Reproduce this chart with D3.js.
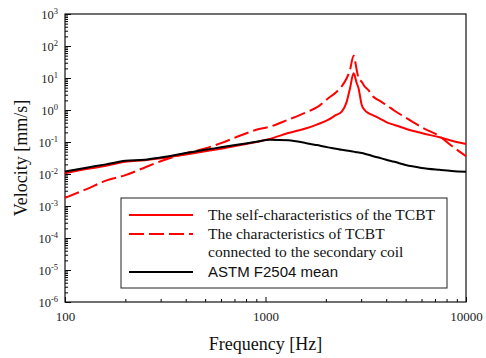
<!DOCTYPE html>
<html>
<head>
<meta charset="utf-8">
<script src="https://cdn.jsdelivr.net/npm/d3@7"></script>
<style>
  html, body { margin: 0; padding: 0; background: #fff; }
  svg { display: block; }
</style>
</head>
<body>
<svg id="chart" width="486" height="358"></svg>
<script>
// frequency grid [Hz]
const freq = [100, 130, 160, 200, 250, 300, 400, 500, 600, 750, 900, 1050, 1300, 1600, 1800, 2050, 2250, 2400, 2540, 2640, 2750, 2850, 2910, 3020, 3120, 3260, 3450, 3700, 4000, 4400, 5000, 6000, 7400, 8500, 10000];

// velocity [mm/s]
const selfChar = [0.0105, 0.0145, 0.018, 0.024, 0.027, 0.031, 0.041, 0.051, 0.062, 0.08, 0.1, 0.125, 0.19, 0.27, 0.35, 0.49, 0.7, 0.89, 1.8, 4.8, 14, 7, 4.8, 1.43, 1.0, 0.8, 0.68, 0.55, 0.42, 0.34, 0.26, 0.19, 0.14, 0.11, 0.087];
const coilChar = [0.0018, 0.0035, 0.0062, 0.0092, 0.016, 0.025, 0.044, 0.063, 0.092, 0.16, 0.24, 0.3, 0.5, 0.85, 1.2, 2.3, 3.6, 5.5, 9.8, 18, 50, 18, 10, 7.6, 5.5, 4.2, 2.6, 1.95, 1.45, 0.95, 0.58, 0.29, 0.15, 0.075, 0.036];
const astmMean = [0.012, 0.016, 0.02, 0.026, 0.028, 0.033, 0.045, 0.057, 0.068, 0.085, 0.102, 0.118, 0.113, 0.092, 0.08, 0.068, 0.062, 0.057, 0.054, 0.052, 0.05, 0.048, 0.047, 0.045, 0.043, 0.04, 0.036, 0.032, 0.028, 0.024, 0.019, 0.0155, 0.0135, 0.0125, 0.0118];

const xTickVals = [100, 1000, 10000];
const yExponents = [-6, -5, -4, -3, -2, -1, 0, 1, 2, 3];

const legendLabels = [
  ["The self-characteristics of the TCBT"],
  ["The characteristics of  TCBT", "connected to the secondary coil"],
  ["ASTM F2504 mean"]
];

const serif = "'Liberation Serif', 'Times New Roman', serif";
const sans = "'Liberation Sans', Arial, sans-serif";

const margin = { left: 65, top: 14, right: 20, bottom: 56 };
const width = 486 - margin.left - margin.right,
      height = 358 - margin.top - margin.bottom;

const svg = d3.select("#chart");
const g = svg.append("g").attr("transform", `translate(${margin.left}, ${margin.top})`);

const x = d3.scaleLog().domain([100, 10000]).range([0, width]);
const y = d3.scaleLog().domain([1e-6, 1e3]).range([height, 0]);

// minor tick values
const xMinor = [];
[100, 1000].forEach(b => { for (let k = 2; k <= 9; k++) xMinor.push(b * k); });
const yMinor = [];
yExponents.slice(0, -1).forEach(e => { for (let k = 2; k <= 9; k++) yMinor.push(k * Math.pow(10, e)); });

// axes (ticks inside)
g.append("g")
  .attr("transform", `translate(0, ${height})`)
  .call(d3.axisBottom(x).tickValues(xMinor).tickSize(-3).tickFormat(""))
  .call(a => a.select(".domain").remove());
g.append("g")
  .attr("transform", `translate(0, ${height})`)
  .call(d3.axisBottom(x).tickValues(xTickVals).tickSize(-5).tickPadding(10).tickFormat(d3.format("d")))
  .call(a => a.select(".domain").remove())
  .call(a => a.selectAll("text").attr("font-family", serif).attr("font-size", 13).attr("fill", "#222"));

g.append("g")
  .call(d3.axisLeft(y).tickValues(yMinor).tickSize(-3).tickFormat(""))
  .call(a => a.select(".domain").remove());
g.append("g")
  .call(d3.axisLeft(y).tickValues(yExponents.map(e => Math.pow(10, e))).tickSize(-6).tickFormat(""))
  .call(a => a.select(".domain").remove());

// y tick labels with superscripts
const yLab = g.append("g").selectAll("text")
  .data(yExponents)
  .join("text")
  .attr("x", -7)
  .attr("y", d => y(Math.pow(10, d)) + 5)
  .attr("text-anchor", "end")
  .attr("font-family", serif)
  .attr("font-size", 12.5)
  .attr("fill", "#222");
yLab.append("tspan").text("10");
yLab.append("tspan").attr("font-size", 8.5).attr("dy", -5).text(d => d);

// frame
g.append("rect")
  .attr("width", width).attr("height", height)
  .attr("fill", "none").attr("stroke", "#111").attr("stroke-width", 1.2);

// curves
const line = d3.line()
  .x(d => x(d[0]))
  .y(d => y(d[1]))
  .curve(d3.curveMonotoneX);

const series = [
  { values: selfChar, color: "#ff0000", dash: null },
  { values: coilChar, color: "#ff0000", dash: "15,5" },
  { values: astmMean, color: "#000000", dash: null }
];

series.forEach(s => {
  g.append("path")
    .datum(freq.map((f, i) => [f, s.values[i]]))
    .attr("fill", "none")
    .attr("stroke", s.color)
    .attr("stroke-width", 2)
    .attr("stroke-dasharray", s.dash)
    .attr("d", line);
});

// legend
const lg = svg.append("g").attr("transform", "translate(121, 198)");
lg.append("rect")
  .attr("width", 326).attr("height", 90)
  .attr("fill", "#fff").attr("stroke", "#222").attr("stroke-width", 1);

const rowsY = [17, 36, 74];
series.forEach((s, i) => {
  lg.append("line")
    .attr("x1", 8).attr("x2", 72)
    .attr("y1", rowsY[i]).attr("y2", rowsY[i])
    .attr("stroke", s.color).attr("stroke-width", 2)
    .attr("stroke-dasharray", s.dash);
  legendLabels[i].forEach((t, j) => {
    lg.append("text")
      .attr("x", 87)
      .attr("y", rowsY[i] + 5 + j * 18)
      .attr("font-family", i === 2 ? sans : serif)
      .attr("font-size", i === 2 ? 15 : 15.5)
      .attr("fill", "#111")
      .text(t);
  });
});

// axis titles
svg.append("text")
  .attr("x", margin.left + width / 2)
  .attr("y", 350)
  .attr("text-anchor", "middle")
  .attr("font-family", serif)
  .attr("font-size", 18)
  .attr("fill", "#111")
  .text("Frequency [Hz]");

svg.append("text")
  .attr("transform", `translate(27, ${margin.top + height / 2}) rotate(-90)`)
  .attr("text-anchor", "middle")
  .attr("font-family", serif)
  .attr("font-size", 18)
  .attr("fill", "#111")
  .text("Velocity [mm/s]");
</script>
</body>
</html>
